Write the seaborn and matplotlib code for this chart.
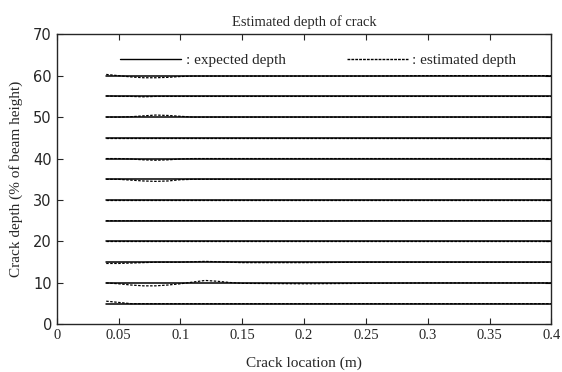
import matplotlib
matplotlib.use("Agg")
import matplotlib.pyplot as plt
import seaborn as sns
import pandas as pd
from matplotlib.lines import Line2D

sns.set_style("ticks")
plt.rcParams['font.family'] = ['Liberation Serif', 'DejaVu Serif']

# Data
locations = [0.04, 0.05, 0.06, 0.07, 0.08, 0.09, 0.10, 0.11, 0.12, 0.13, 0.14, 0.15, 0.20, 0.25, 0.30, 0.35, 0.40]
depths = [5, 10, 15, 20, 25, 30, 35, 40, 45, 50, 55, 60]
estimated = {
    60: [60.3, 60.0, 59.7, 59.5, 59.5, 59.6, 59.8, 59.9, 59.9, 59.9, 59.9, 59.9, 59.9, 59.9, 60.0, 60.0, 60.0],
    55: [55.1, 55.0, 55.0, 54.9, 55.0, 55.0, 55.0, 55.0, 55.0, 55.0, 55.0, 55.0, 55.0, 55.0, 55.0, 55.0, 55.0],
    50: [50.0, 50.0, 50.1, 50.3, 50.5, 50.4, 50.2, 50.0, 50.0, 50.0, 50.0, 50.0, 50.0, 50.0, 50.0, 50.0, 50.0],
    45: [45.0, 45.0, 45.0, 45.0, 45.0, 45.0, 45.0, 45.0, 45.0, 45.0, 45.0, 45.0, 45.0, 45.0, 45.0, 45.0, 45.0],
    40: [40.0, 40.0, 39.9, 39.7, 39.6, 39.7, 39.9, 40.0, 40.0, 40.0, 40.0, 40.0, 40.0, 40.0, 40.0, 40.0, 40.0],
    35: [35.0, 35.0, 34.8, 34.6, 34.5, 34.6, 34.9, 35.0, 35.0, 35.0, 35.0, 35.0, 35.0, 35.0, 35.0, 35.0, 35.0],
    30: [30.0, 30.0, 30.0, 30.0, 30.0, 30.0, 30.0, 30.0, 30.0, 30.0, 30.0, 30.0, 30.0, 30.0, 30.0, 30.0, 30.0],
    25: [25.0, 25.0, 25.0, 25.0, 25.0, 25.0, 25.0, 25.0, 25.0, 25.0, 25.0, 25.0, 24.9, 25.0, 25.0, 25.0, 25.0],
    20: [20.0, 20.0, 20.0, 20.0, 20.0, 20.0, 20.0, 20.0, 20.0, 20.0, 20.0, 20.0, 20.0, 20.0, 20.0, 20.0, 20.0],
    15: [14.7, 14.7, 14.8, 14.9, 15.0, 15.0, 15.0, 15.1, 15.2, 15.1, 15.0, 14.9, 14.9, 15.0, 15.0, 15.0, 15.0],
    10: [10.0, 9.8, 9.5, 9.3, 9.3, 9.5, 9.8, 10.2, 10.6, 10.4, 10.1, 9.9, 9.8, 9.9, 10.0, 10.0, 10.0],
    5:  [5.6, 5.3, 5.0, 5.0, 5.0, 5.0, 5.0, 5.0, 5.0, 5.0, 5.0, 5.0, 5.0, 5.0, 5.0, 5.0, 5.0],
}
x_ticks = [0, 0.05, 0.1, 0.15, 0.2, 0.25, 0.3, 0.35, 0.4]
x_tick_labels = ["0", "0.05", "0.1", "0.15", "0.2", "0.25", "0.3", "0.35", "0.4"]
y_ticks = [0, 10, 20, 30, 40, 50, 60, 70]

rows = []
for d in depths:
    for x, e in zip(locations, estimated[d]):
        rows.append({"loc": x, "depth": d, "expected": d, "estimated": e})
df = pd.DataFrame(rows)

fig = plt.figure(figsize=(5.62, 3.72), dpi=100)
ax = fig.add_axes([0.101, 0.128, 0.880, 0.78])

for d in depths:
    sub = df[df["depth"] == d]
    sns.lineplot(data=sub, x="loc", y="expected", ax=ax, color="black", lw=1.1, estimator=None)
    sns.lineplot(data=sub, x="loc", y="estimated", ax=ax, color="black", lw=0.9,
                 linestyle=(0, (2, 1.2)), estimator=None)

ax.set_xlim(0, 0.4)
ax.set_ylim(0, 70)
ax.set_xticks(x_ticks)
ax.set_xticklabels(x_tick_labels, fontsize=10.5)
ax.set_yticks(y_ticks)
ax.set_yticklabels([str(v) for v in y_ticks], fontsize=10.5, family=['DejaVu Sans'])
ax.tick_params(direction="in", top=True, right=True, length=4, width=0.8)
for s in ax.spines.values():
    s.set_linewidth(1.0)
    s.set_visible(True)

ax.set_xlabel("Crack location (m)", fontsize=11, labelpad=10)
ax.set_ylabel("Crack depth (% of beam height)", fontsize=11, labelpad=7)
ax.set_title("Estimated depth of crack", fontsize=10.5, pad=6)

handles = [Line2D([], [], color="black", lw=1.0),
           Line2D([], [], color="black", lw=1.0, linestyle=(0, (2, 0.8)))]
ax.legend(handles, [": expected depth", ": estimated depth"], ncol=2, frameon=False,
          loc="upper left", bbox_to_anchor=(0.1, 0.98), handlelength=4.0, handletextpad=0.3,
          columnspacing=4.0, fontsize=11)

fig.savefig("out.png", dpi=100)
